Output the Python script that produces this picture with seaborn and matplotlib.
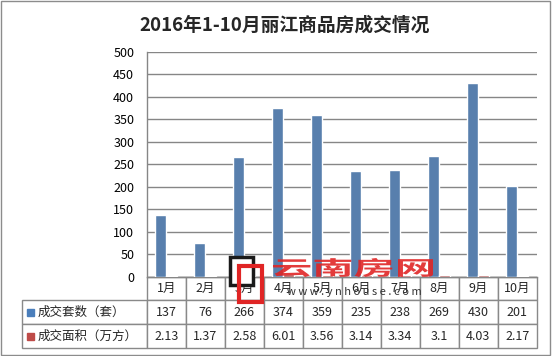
import numpy as np
import pandas as pd
import matplotlib.pyplot as plt
import seaborn as sns
from matplotlib.patches import Rectangle, PathPatch
from matplotlib.textpath import TextPath
from matplotlib.font_manager import FontProperties
from matplotlib.transforms import Affine2D

title = '2016年1-10月丽江商品房成交情况'
months = ['1月', '2月', '3月', '4月', '5月', '6月', '7月', '8月', '9月', '10月']
series_names = ['成交套数（套）', '成交面积（万方）']
sets_sold = [137, 76, 266, 374, 359, 235, 238, 269, 430, 201]
area_sold = [2.13, 1.37, 2.58, 6.01, 3.56, 3.14, 3.34, 3.1, 4.03, 2.17]
area_labels = ['2.13', '1.37', '2.58', '6.01', '3.56', '3.14', '3.34', '3.1', '4.03', '2.17']
colors = ['#4A7EBB', '#BE4B48']

sns.set_style('white')
plt.rcParams['font.family'] = ['Noto Sans CJK SC', 'DejaVu Sans']

W, H = 553, 356
fig = plt.figure(figsize=(W / 100, H / 100), dpi=100)

# plot area in pixels (top-left origin)
x0, x1, ytop, ybot = 146.7, 536.7, 51.7, 276.7
ax = fig.add_axes([x0 / W, 1 - ybot / H, (x1 - x0) / W, (ybot - ytop) / H])

df = pd.DataFrame({
    'month': months * 2,
    'value': sets_sold + area_sold,
    'series': [series_names[0]] * 10 + [series_names[1]] * 10,
})
sns.barplot(data=df, x='month', y='value', hue='series', palette=colors,
            width=0.564, gap=0, legend=False, ax=ax, zorder=3)

ax.set_ylim(0, 500)
ax.set_xlim(-0.5, 9.5)
ax.set_yticks(np.arange(0, 501, 50))
ax.yaxis.grid(True, color='#868686', lw=1, zorder=0)
ax.set_xlabel('')
ax.set_ylabel('')
ax.set_xticks([])
ax.tick_params(axis='y', length=0, pad=9, labelsize=9, labelcolor='black')
for s in ['top', 'right']:
    ax.spines[s].set_visible(False)
for s in ['left', 'bottom']:
    ax.spines[s].set_color('#868686')
    ax.spines[s].set_linewidth(1)

# data table under the chart
tl, tb = 21.7, 348.0
cell_text = [[''] + months,
             [series_names[0]] + [str(v) for v in sets_sold],
             [series_names[1]] + area_labels]
lab_w = x0 - tl
col_w = [lab_w] + [(x1 - x0) / 10] * 10
tot = sum(col_w)
tab = ax.table(cellText=cell_text, colWidths=[c / tot for c in col_w],
               cellLoc='center',
               bbox=[(tl - x0) / (x1 - x0), -(tb - ybot) / (ybot - ytop),
                     (x1 - tl) / (x1 - x0), (tb - ybot) / (ybot - ytop)])
tab.auto_set_font_size(False)
tab.set_fontsize(9)
for (r, c), cell in tab.get_celld().items():
    cell.set_edgecolor('#898989')
    cell.set_linewidth(1)
    if r == 0 and c == 0:
        cell.visible_edges = 'open'
    if c == 0 and r > 0:
        cell._loc = 'left'
        cell.PAD = 16 / lab_w
        cell.get_text().set_ha('left')

# legend keys inside the table label cells
row_centers = [312.7, 336.2]
for yc, col in zip(row_centers, colors):
    fig.add_artist(Rectangle((26.5 / W, 1 - (yc + 3.5) / H), 7 / W, 7 / H,
                             transform=fig.transFigure, color=col))

fig.text(285 / W, 1 - 25.5 / H, title, ha='center', va='center',
         fontsize=13.5, fontweight='bold')

# watermark
fig.add_artist(Rectangle((230 / W, 1 - 285 / H), 23 / W, 28 / H,
                         transform=fig.transFigure, facecolor='white',
                         edgecolor='#1a1a1a', lw=2.5, zorder=5))
fig.add_artist(Rectangle((239 / W, 1 - 302 / H), 23 / W, 36 / H,
                         transform=fig.transFigure, facecolor='none',
                         edgecolor='#E02525', lw=3, zorder=6))
tp = TextPath((0, 0), '云南房网', size=20,
              prop=FontProperties(family='Noto Sans CJK SC', weight='bold'))
ext = tp.get_extents()
sx = (433 - 273) / ext.width
sy = (277 - 258) / ext.height
tr = Affine2D().translate(-ext.x0, -ext.y0).scale(sx, sy).translate(273, H - 277) \
    + Affine2D().scale(1 / W, 1 / H) + fig.transFigure
fig.add_artist(PathPatch(tp, transform=tr, facecolor='#E02525', edgecolor='none',
                         alpha=0.9, zorder=6))
fig.text(354 / W, 1 - 292 / H, ' '.join('www.ynhouse.com'), ha='center',
         va='center', fontsize=8, color='#333333', zorder=6)

# chart border
fig.add_artist(Rectangle((0.5 / W, 1 - 355 / H), 549.5 / W, 354.5 / H,
                         transform=fig.transFigure, facecolor='none',
                         edgecolor='#8c8c8c', lw=1))

fig.savefig('out.png', dpi=100)
